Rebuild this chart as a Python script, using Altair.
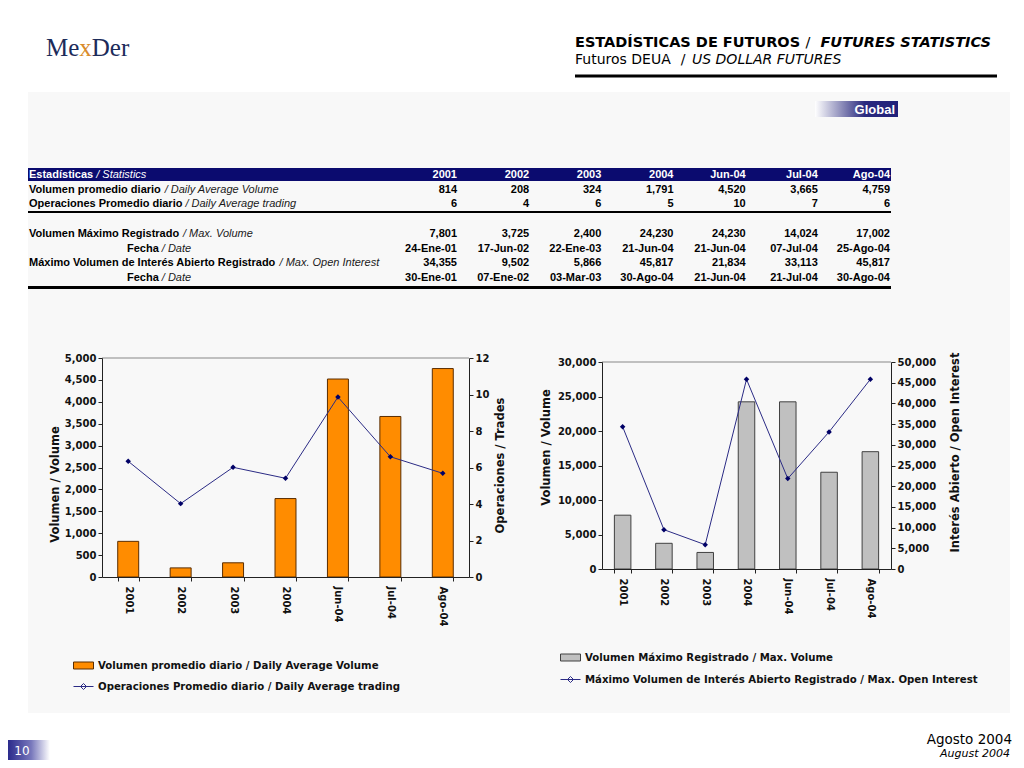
import altair as alt
import pandas as pd

# ---------------- data ----------------
periods = ["2001", "2002", "2003", "2004", "Jun-04", "Jul-04", "Ago-04"]
avg_volume = [814, 208, 324, 1791, 4520, 3665, 4759]
avg_trades = [6.34, 4.02, 6.01, 5.41, 9.86, 6.59, 5.68]
max_volume = [7801, 3725, 2400, 24230, 24230, 14024, 17002]
max_volume_date = ["24-Ene-01", "17-Jun-02", "22-Ene-03", "21-Jun-04", "21-Jun-04", "07-Jul-04", "25-Ago-04"]
max_open_interest = [34355, 9502, 5866, 45817, 21834, 33113, 45817]
max_open_interest_date = ["30-Ene-01", "07-Ene-02", "03-Mar-03", "30-Ago-04", "21-Jun-04", "21-Jul-04", "30-Ago-04"]

header_es = "Estadísticas"
header_en = "Statistics"
row_labels_es = ["Volumen promedio diario", "Operaciones Promedio diario", "Volumen Máximo Registrado",
                 "Fecha", "Máximo Volumen de Interés Abierto Registrado", "Fecha"]
row_labels_en = ["Daily Average Volume", "Daily Average trading", "Max. Volume",
                 "Date", "Max. Open Interest", "Date"]

legend1 = ["Volumen promedio diario / Daily Average Volume",
           "Operaciones Promedio diario / Daily Average trading"]
legend2 = ["Volumen Máximo Registrado / Max. Volume",
           "Máximo Volumen de Interés Abierto Registrado / Max. Open Interest"]

# ---------------- layout ----------------
W, H = 1004, 752


def px(x):
    return x - 8


def py(y):
    return y - 8


ONE = pd.DataFrame({"k": [0]})
AXF = "DejaVu Sans"
TBF = "Liberation Sans"
LGF = "DejaVu Sans Condensed, DejaVu Sans"
NAVY = "#0b0b6f"

ARIAL_BOLD = {' ': 278, '/': 278, 'A': 722, 'E': 667, 'F': 611, 'I': 278, 'M': 833, 'O': 778, 'P': 667,
              'R': 722, 'V': 667, 'a': 556, 'b': 611, 'c': 556, 'd': 611, 'e': 556, 'g': 611, 'h': 611,
              'i': 278, 'l': 278, 'm': 889, 'n': 611, 'o': 611, 'p': 611, 'r': 389, 's': 556, 't': 333,
              'u': 611, 'x': 556, 'á': 556, 'é': 556, 'í': 278}


def bold_width(s, size):
    return sum(ARIAL_BOLD.get(ch, 600) for ch in s) * size / 1000.0


def text(s, x, y, size=11, font=AXF, weight="normal", style="normal", color="#000",
         align="left", baseline="middle"):
    return alt.Chart(ONE).mark_text(text=s, font=font, fontSize=size, fontWeight=weight,
                                    fontStyle=style, color=color, align=align,
                                    baseline=baseline).encode(x=alt.value(px(x)), y=alt.value(py(y)))


def box(x1, x2, y1, y2, fill):
    return alt.Chart(ONE).mark_rect(fill=fill).encode(
        x=alt.value(px(x1)), x2=alt.value(px(x2)), y=alt.value(py(y1)), y2=alt.value(py(y2)))


def hline(x1, x2, y, color, w):
    return alt.Chart(ONE).mark_rule(color=color, strokeWidth=w).encode(
        x=alt.value(px(x1)), x2=alt.value(px(x2)), y=alt.value(py(y)))


def ax(**kw):
    base = dict(labelFont=AXF, labelFontSize=10, labelFontWeight="bold", labelColor="#111",
                titleFont=AXF, titleFontSize=11.5, titleFontWeight="bold", titleColor="#111",
                domainColor="#222", tickColor="#222", tickSize=4, grid=False, labelOverlap=False,
                zindex=1)
    base.update(kw)
    return alt.Axis(**base)


BAR_SYM = "M-1,-0.35L1,-0.35L1,0.35L-1,0.35Z"
LINE_SYM = "M-1,0L1,0M0,-0.3L0.3,0L0,0.3L-0.3,0Z"


def leg(x, y, sym, stroke):
    return alt.Legend(title=None, orient="none", legendX=px(x), legendY=py(y) - 10,
                      symbolType=sym, symbolSize=400, symbolStrokeWidth=1, symbolStrokeColor=stroke,
                      labelFont=LGF, labelFontSize=11.3, labelFontWeight="bold", labelColor="#111",
                      labelLimit=800, labelOffset=4, padding=0)


def grad(stops):
    return alt.LinearGradient(gradient="linear", x1=0, x2=1, y1=0, y2=0,
                              stops=[alt.GradientStop(color=c, offset=o) for o, c in stops])


# ---------------- header ----------------
deco = [
    box(28, 1010, 92, 713, "#f8f8f8"),
    text("Me", 46, 56, size=25, font="Liberation Serif", color="#1c2b5a", baseline="alphabetic"),
    text("x", 79.3, 56, size=25, font="Liberation Serif", color="#d98b2b", baseline="alphabetic"),
    text("Der", 91.8, 56, size=25, font="Liberation Serif", color="#1c2b5a", baseline="alphabetic"),
    text("ESTADÍSTICAS DE FUTUROS", 575, 43, size=14.5, weight="bold"),
    text("/", 808, 43, size=14.5, align="center"),
    text("FUTURES STATISTICS", 991, 43, size=14.5, weight="bold", style="italic", align="right"),
    text("Futuros DEUA", 575, 60, size=14),
    text("/", 683, 60, size=14, align="center"),
    text("US DOLLAR FUTURES", 692, 60, size=14, style="italic"),
    hline(575, 997, 76, "#000", 3),
    alt.Chart(ONE).mark_rect(fill=grad([(0, "#ffffff"), (0.6, "#2a2a7e"), (1, "#20207a")])).encode(
        x=alt.value(px(815)), x2=alt.value(px(898)), y=alt.value(py(101)), y2=alt.value(py(117))),
    text("Global", 895, 109.5, size=13, font="Liberation Sans Narrow, Liberation Sans",
         weight="bold", color="#ffffff", align="right"),
    # table frame
    box(28, 891, 168, 181, NAVY),
    hline(28, 891, 212, "#000", 2),
    hline(28, 891, 287.5, "#000", 3),
    # plot top borders
    hline(102, 469, 358, "#888", 1),
    hline(602, 891, 362, "#888", 1),
    # footer
    text("Agosto 2004", 1012, 740, size=13.5, align="right"),
    text("August 2004", 1010, 754, size=11, style="italic", align="right"),
    alt.Chart(ONE).mark_rect(fill=grad([(0, "#2b2b8c"), (0.55, "#7777bb"), (1, "#ffffff")])).encode(
        x=alt.value(px(8)), x2=alt.value(px(50)), y=alt.value(py(740)), y2=alt.value(py(760))),
    text("10", 22, 751, size=12, color="#ffffff", align="center"),
]

# ---------------- table ----------------
cells = [{"c": i, "r": 0, "t": p} for i, p in enumerate(periods)]
row_values = [
    (1, [f"{v:,}" for v in avg_volume]),
    (2, [f"{v:,.0f}" for v in avg_trades]),
    (4, [f"{v:,}" for v in max_volume]),
    (5, max_volume_date),
    (6, [f"{v:,}" for v in max_open_interest]),
    (7, max_open_interest_date),
]
for r, vals in row_values:
    for i, v in enumerate(vals):
        cells.append({"c": i, "r": r, "t": v})
cells_df = pd.DataFrame(cells)

row_y = alt.Y("r:Q", scale=alt.Scale(domain=[0, 7], range=[py(175), py(278)]), axis=None)

table_values = alt.Chart(cells_df).mark_text(font=TBF, fontSize=11, fontWeight="bold", align="right",
                                             baseline="middle").encode(
    x=alt.X("c:Q", scale=alt.Scale(domain=[0, 6], range=[px(457), px(890)]), axis=None),
    y=row_y,
    text="t:N",
    color=alt.condition("datum.r == 0", alt.value("#ffffff"), alt.value("#000000")),
)

label_rows = [0, 1, 2, 4, 5, 6, 7]
labels_es = [header_es] + row_labels_es
labels_en = [header_en] + row_labels_en
lab = pd.DataFrame({"r": label_rows, "es": labels_es, "en": ["/ " + e for e in labels_en]})
lab["x_es"] = [px(127 if s == "Fecha" else 29) for s in labels_es]
lab["x_en"] = [x + bold_width(s, 11) + 3 for x, s in zip(lab["x_es"], labels_es)]

table_es = alt.Chart(lab).mark_text(font=TBF, fontSize=11, fontWeight="bold", align="left",
                                    baseline="middle").encode(
    x=alt.X("x_es:Q", scale=None), y=row_y, text="es:N",
    color=alt.condition("datum.r == 0", alt.value("#ffffff"), alt.value("#000000")))
table_en = alt.Chart(lab).mark_text(font=TBF, fontSize=11, fontStyle="italic", align="left",
                                    baseline="middle").encode(
    x=alt.X("x_en:Q", scale=None), y=row_y, text="en:N",
    color=alt.condition("datum.r == 0", alt.value("#ffffff"), alt.value("#1a1a1a")))


# ---------------- combo chart builder ----------------
def combo(df, x0, x1, y_bottom, y_top, bar_max, bar_step, line_max, line_step,
          bar_title, line_title, bar_title_y, line_title_y, bar_tpad, line_tpad,
          bar_fill, bar_stroke, legend_labels, leg_x, leg_y1, leg_y2):
    sc_x = alt.Scale(type="band", domain=periods, range=[px(x0), px(x1)],
                     paddingInner=0.6, paddingOuter=0.3)
    xenc = alt.X("periodo:N", sort=periods, scale=sc_x,
                 axis=ax(orient="bottom", offset=py(y_bottom) - H, labelAngle=90, labelPadding=5,
                         tickBand="extent", title=None))
    sc_yb = alt.Scale(domain=[0, bar_max], range=[py(y_bottom), py(y_top)], nice=False)
    sc_yl = alt.Scale(domain=[0, line_max], range=[py(y_bottom), py(y_top)], nice=False)
    yb = alt.Y("barra:Q", scale=sc_yb,
               axis=ax(orient="left", offset=-px(x0), values=list(range(0, bar_max + 1, bar_step)),
                       format=",.0f", title=bar_title, titlePadding=bar_tpad, titleY=py(bar_title_y)))
    yl = alt.Y("linea:Q", scale=sc_yl,
               axis=ax(orient="right", offset=px(x1) - W, values=list(range(0, line_max + 1, line_step)),
                       format=",.0f", title=line_title, titleAngle=270, titleBaseline="top",
                       titlePadding=line_tpad, titleY=py(line_title_y)))
    bars = alt.Chart(df).mark_bar(stroke=bar_stroke, strokeWidth=1).encode(
        x=xenc, y=yb,
        fill=alt.Fill("s_bar:N", scale=alt.Scale(domain=[legend_labels[0]], range=[bar_fill]),
                      legend=leg(leg_x, leg_y1, BAR_SYM, bar_stroke)),
    )
    line = alt.Chart(df).mark_line(strokeWidth=1).encode(
        x=xenc, y=yl,
        stroke=alt.Stroke("s_line:N", scale=alt.Scale(domain=[legend_labels[1]], range=["#2b2b85"]),
                          legend=leg(leg_x, leg_y2, LINE_SYM, "#2b2b85")),
    )
    pts = alt.Chart(df).mark_point(shape="diamond", filled=True, size=30, color="#000066",
                                   opacity=1).encode(x=xenc, y=yl)
    return alt.layer(bars, alt.layer(line, pts)).resolve_scale(y="independent").resolve_axis(y="independent")


df1 = pd.DataFrame({"periodo": periods, "barra": avg_volume, "linea": avg_trades,
                    "s_bar": legend1[0], "s_line": legend1[1]})
df2 = pd.DataFrame({"periodo": periods, "barra": max_volume, "linea": max_open_interest,
                    "s_bar": legend2[0], "s_line": legend2[1]})

chart1 = combo(df1, 102, 469, 577, 358, 5000, 500, 12, 2,
               "Volumen / Volume", "Operaciones / Trades", 484, 465, 4, 6,
               "#ff8c00", "#5a2d00", legend1, 73, 665, 686)
chart2 = combo(df2, 602, 891, 569, 362, 30000, 5000, 50000, 5000,
               "Volumen / Volume", "Interés Abierto / Open Interest", 447, 452, 6, 14,
               "#c0c0c0", "#404040", legend2, 560, 657, 679)

# ---------------- compose ----------------
chart = alt.layer(
    *deco, table_values, table_es, table_en, chart1, chart2
).resolve_scale(
    x="independent", y="independent", fill="independent", stroke="independent"
).resolve_axis(
    x="independent", y="independent"
).resolve_legend(
    fill="independent", stroke="independent"
).properties(
    width=W, height=H, padding=0, autosize=alt.AutoSizeParams(type="none")
).configure_view(stroke=None)

chart.save("out.html", embed_options={"renderer": "svg", "actions": False})
